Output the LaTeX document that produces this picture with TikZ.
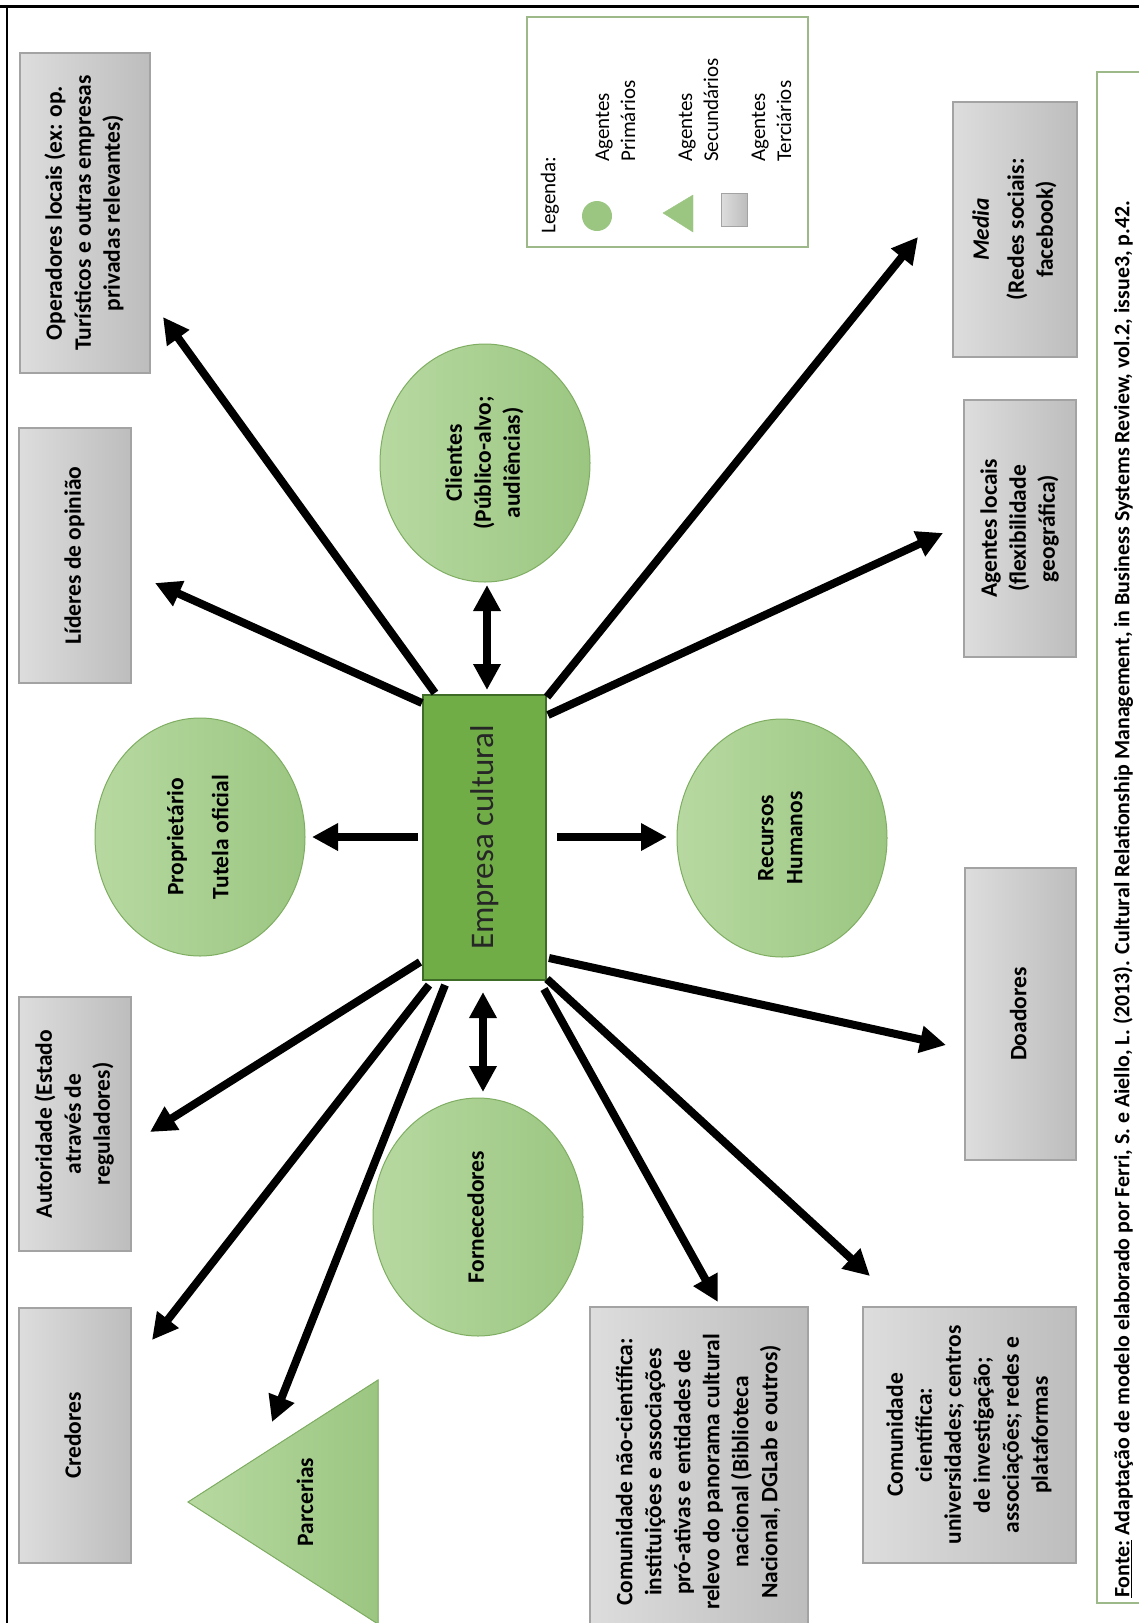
\documentclass[tikz,border=0pt]{standalone}
\usepackage{fontspec}
\setmainfont{Carlito}
\usepackage{graphicx}
\usetikzlibrary{arrows.meta,shapes.geometric}
\definecolor{gL}{HTML}{DDDDDD}
\definecolor{gR}{HTML}{BDBDBD}
\definecolor{gB}{HTML}{A3A3A3}
\definecolor{eL}{HTML}{B7D9A1}
\definecolor{eR}{HTML}{9BC681}
\definecolor{eB}{HTML}{7FAE62}
\definecolor{emp}{HTML}{70AD47}
\definecolor{empB}{HTML}{3E6B25}
\definecolor{lgB}{HTML}{9DB98A}
\newcommand{\rtxt}[1]{\rotatebox{90}{\begin{tabular}{@{}c@{}}#1\end{tabular}}}
\newcommand{\rtxl}[1]{\rotatebox{90}{\begin{tabular}{@{}l@{}}#1\end{tabular}}}
\begin{document}
\begin{tikzpicture}[x=1pt,y=-1pt,
  gbox/.style={draw=gB, line width=1.2pt, left color=gL, right color=gR, inner sep=0pt,
    font=\fontsize{23.5}{29}\selectfont\bfseries},
  ell/.style={ellipse, draw=eB, line width=1pt, left color=eL, right color=eR, inner sep=0pt,
    minimum width=210, minimum height=238, font=\fontsize{23.5}{29}\selectfont\bfseries},
  arr/.style={line width=8pt, -{Triangle[length=26pt,width=26pt]}},
  darr/.style={line width=8pt, {Triangle[length=26pt,width=26pt]}-{Triangle[length=26pt,width=26pt]}},
  lgtxt/.style={inner sep=0pt, anchor=south, font=\fontsize{21}{26}\selectfont},
]
\useasboundingbox (0,0) rectangle (1139,1623);
\fill[white] (0,0) rectangle (1139,1623);
\clip (0,0) rectangle (1139,1623);

% frame
\draw[line width=3pt] (0,6) -- (1139,6);
\draw[line width=2pt] (7,6) -- (7,1623);

% legend
\node[draw=lgB, line width=1.2pt, minimum width=281, minimum height=230, inner sep=0pt] (leg) at (667.5,132) {};
\node[lgtxt] (legt) at (550,234) {\rotatebox{90}{Legenda:}};
\node[circle, fill=eR, minimum size=30, inner sep=0pt] (legc) at (597,216) {};
\filldraw[draw=eR, fill=eR] (663,213) -- (693,195) -- (693,232) -- cycle;
\node[draw=gB, left color=gL, right color=gR, minimum width=26, minimum height=33, inner sep=0pt] (legs) at (734,209.5) {};
\node[lgtxt] (lg1) at (617,162) {\rtxl{Agentes\\Primários}};
\node[lgtxt] (lg2) at (700,162) {\rtxl{Agentes\\Secundários}};
\node[lgtxt] (lg3) at (773,162) {\rtxl{Agentes\\Terciários}};

% footer
\node[draw=lgB, line width=1.2pt, minimum width=70, minimum height=1531, inner sep=0pt] (fbox) at (1132,837.5) {};
\node[inner sep=0pt, anchor=south, font=\fontsize{21.9}{26}\selectfont\bfseries] (fonte) at (1123,1598)
  {\rotatebox{90}{\underline{Fonte:} Adaptação de modelo elaborado por Ferri, S. e Aiello, L. (2013). Cultural Relationship Management, in Business Systems Review, vol.2, issue3, p.42.}};

% tertiary agents (gray boxes)
\node[gbox, minimum width=130, minimum height=320] (op) at (85,213) {\rtxt{Operadores locais (ex: op.\\Turísticos e outras empresas\\privadas relevantes)}};
\node[gbox, minimum width=112, minimum height=255] (lid) at (75,555.5) {\rtxt{Líderes de opinião}};
\node[gbox, minimum width=112, minimum height=254] (aut) at (75,1124) {\rtxt{Autoridade (Estado\\através de\\reguladores)}};
\node[gbox, minimum width=112, minimum height=255] (cred) at (75,1435.5) {\rtxt{Credores}};
\node[gbox, minimum width=124, minimum height=255] (media) at (1015,229.5) {\rtxt{\textit{Media}\\[6pt](Redes sociais:\\facebook)}};
\node[gbox, minimum width=112, minimum height=257] (agl) at (1020,528.5) {\rtxt{Agentes locais\\(flexibilidade\\geográfica)}};
\node[gbox, minimum width=111, minimum height=292] (doa) at (1020.5,1014) {\rtxt{Doadores}};
\node[gbox, minimum width=213, minimum height=256] (cc) at (969.5,1435) {\rtxt{Comunidade\\científica:\\universidades; centros\\de investigação;\\associações; redes e\\plataformas}};
\node[gbox, minimum width=218, minimum height=330] (cnc) at (699,1472) {\rtxt{Comunidade não-científica:\\instituições e associações\\pró-ativas e entidades de\\relevo do panorama cultural\\nacional (Biblioteca\\Nacional, DGLab e outros)}};

% secondary agent (triangle)
\filldraw[draw=eB, line width=1pt, left color=eL, right color=eR] (188,1502) -- (378,1380) -- (378,1624) -- cycle;
\node[inner sep=0pt, font=\fontsize{23.5}{29}\selectfont\bfseries] (parc) at (305,1502) {\rotatebox{90}{Parcerias}};

% primary agents (ellipses)
\node[ell] (cli) at (485,463) {\rtxt{Clientes\\(Público-alvo;\\audiências)}};
\node[ell] (prop) at (200,837) {\rtxt{Proprietário\\[16pt]Tutela oficial}};
\node[ell] (rh) at (782,838) {\rtxt{Recursos\\Humanos}};
\node[ell] (forn) at (478,1217) {\rtxt{Fornecedores}};

% central node
\node[draw=empB, fill=emp, line width=1.2pt, minimum width=123, minimum height=285, inner sep=0pt,
  text=black!85, font=\fontsize{33}{38}\selectfont] (emp) at (484.5,837.5) {\rotatebox{90}{Empresa cultural}};

% arrow end points
\coordinate (s-op) at (435,693);   \coordinate (t-op) at (163,317);
\coordinate (s-lid) at (422,703);  \coordinate (t-lid) at (155,583);
\coordinate (s-cli) at (487,690);  \coordinate (t-cli) at (487,585);
\coordinate (s-med) at (547,697);  \coordinate (t-med) at (918,237);
\coordinate (s-agl) at (548,715);  \coordinate (t-agl) at (943,533);
\coordinate (s-prop) at (418,837); \coordinate (t-prop) at (312,837);
\coordinate (s-rh) at (557,837);   \coordinate (t-rh) at (667,837);
\coordinate (s-aut) at (420,962);  \coordinate (t-aut) at (150,1132);
\coordinate (s-cred) at (429,985); \coordinate (t-cred) at (152,1340);
\coordinate (s-parc) at (445,985); \coordinate (t-parc) at (272,1422);
\coordinate (s-forn) at (483,992); \coordinate (t-forn) at (483,1092);
\coordinate (s-cnc) at (544,989);  \coordinate (t-cnc) at (718,1302);
\coordinate (s-cc) at (547,979);   \coordinate (t-cc) at (870,1276);
\coordinate (s-doa) at (549,958);  \coordinate (t-doa) at (946,1045);

\draw[arr] (s-op) -- (t-op);
\draw[arr] (s-lid) -- (t-lid);
\draw[darr] (s-cli) -- (t-cli);
\draw[arr] (s-med) -- (t-med);
\draw[arr] (s-agl) -- (t-agl);
\draw[arr] (s-prop) -- (t-prop);
\draw[arr] (s-rh) -- (t-rh);
\draw[arr] (s-aut) -- (t-aut);
\draw[arr] (s-cred) -- (t-cred);
\draw[arr] (s-parc) -- (t-parc);
\draw[darr] (s-forn) -- (t-forn);
\draw[arr] (s-cnc) -- (t-cnc);
\draw[arr] (s-cc) -- (t-cc);
\draw[arr] (s-doa) -- (t-doa);
\end{tikzpicture}
\end{document}
